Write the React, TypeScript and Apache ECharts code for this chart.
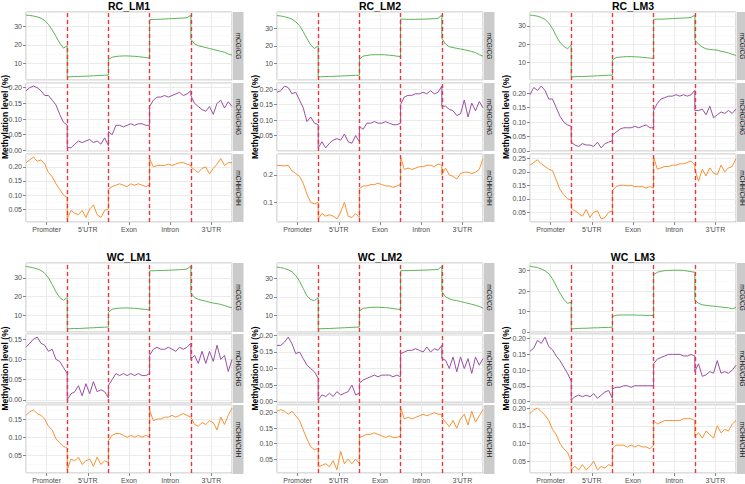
import React, { useEffect, useRef } from 'react';
import * as echarts from 'echarts';

const REGIONS = ['Promoter', "5'UTR", 'Exon', 'Intron', "3'UTR"];
const SAMPLES = ['RC_LM1', 'RC_LM2', 'RC_LM3', 'WC_LM1', 'WC_LM2', 'WC_LM3'];
const CONTEXTS = ['mCG/CG', 'mCHG/CHG', 'mCHH/CHH'];

// 12 bins per region: Promoter, 5'UTR, Exon, Intron, 3'UTR
const RC_LM1_CG = [
  36, 35.8, 35.5, 35, 34.3, 33, 31, 28, 24.5, 21, 18.2, 19.5,
  2.7, 2.8, 2.9, 3.0, 3.0, 3.1, 3.2, 3.3, 3.4, 3.5, 3.6, 3.7,
  12.0, 13.3, 13.7, 13.9, 14.0, 14.0, 13.9, 13.8, 13.6, 13.4, 13.1, 12.8,
  33.5, 33.6, 33.7, 33.8, 33.9, 34.0, 34.1, 34.2, 34.3, 34.4, 34.6, 36.0,
  23, 20.5, 19.5, 19, 18.5, 18, 17.5, 17, 16.5, 16, 15, 14.5,
];
const RC_LM1_CHG = [
  0.19, 0.20, 0.205, 0.20, 0.19, 0.175, 0.175, 0.16, 0.145, 0.115, 0.09, 0.08,
  0.01, 0.008, 0.02, 0.03, 0.025, 0.03, 0.035, 0.025, 0.03, 0.02, 0.04, 0.015,
  0.06, 0.05, 0.08, 0.08, 0.075, 0.08, 0.085, 0.08, 0.085, 0.085, 0.08, 0.08,
  0.14, 0.16, 0.17, 0.17, 0.175, 0.17, 0.175, 0.18, 0.185, 0.175, 0.18, 0.19,
  0.175, 0.15, 0.14, 0.13, 0.125, 0.14, 0.115, 0.15, 0.16, 0.135, 0.155, 0.14,
];
const RC_LM1_CHH = [
  0.215, 0.225, 0.235, 0.22, 0.225, 0.21, 0.18, 0.165, 0.14, 0.12, 0.10, 0.09,
  0.015, 0.045, 0.035, 0.03, 0.045, 0.02, 0.05, 0.065, 0.03, 0.02, 0.045, 0.05,
  0.12, 0.13, 0.135, 0.14, 0.135, 0.13, 0.14, 0.135, 0.14, 0.135, 0.13, 0.135,
  0.23, 0.20, 0.205, 0.205, 0.205, 0.21, 0.205, 0.21, 0.215, 0.215, 0.21, 0.205,
  0.20, 0.19, 0.18, 0.195, 0.20, 0.175, 0.195, 0.21, 0.23, 0.205, 0.215, 0.215,
];

const RC_LM2_CG = [
  37, 36.8, 36.4, 35.8, 35, 33.5, 31.5, 28, 24, 20.5, 18.5, 20,
  2.5, 2.6, 2.7, 2.8, 2.8, 2.9, 3.0, 3.1, 3.2, 3.3, 3.4, 3.5,
  12.5, 14.2, 14.6, 14.9, 15.0, 15.0, 15.0, 14.9, 14.7, 14.5, 14.2, 13.9,
  35.0, 35.0, 34.9, 34.9, 34.9, 35.0, 35.0, 35.1, 35.2, 35.3, 35.5, 37.3,
  24.3, 21, 19.5, 19, 18.6, 18.2, 17.8, 17.3, 16.8, 16.2, 15.0, 14.2,
];
const RC_LM2_CHG = [
  0.19, 0.195, 0.21, 0.205, 0.185, 0.19, 0.165, 0.14, 0.095, 0.11, 0.09, 0.085,
  0.01, 0.03, 0.01, 0.025, 0.035, 0.04, 0.035, 0.055, 0.03, 0.025, 0.05, 0.03,
  0.08, 0.07, 0.09, 0.09, 0.095, 0.09, 0.09, 0.095, 0.09, 0.085, 0.085, 0.09,
  0.15, 0.175, 0.18, 0.18, 0.185, 0.185, 0.19, 0.185, 0.195, 0.185, 0.19, 0.21,
  0.145, 0.145, 0.135, 0.13, 0.115, 0.12, 0.165, 0.11, 0.155, 0.13, 0.16, 0.14,
];
const RC_LM2_CHH = [
  0.235, 0.234, 0.233, 0.235, 0.215, 0.205, 0.195, 0.17, 0.13, 0.10, 0.095, 0.10,
  0.04, 0.06, 0.05, 0.055, 0.05, 0.04, 0.065, 0.10, 0.05, 0.045, 0.06, 0.045,
  0.15, 0.16, 0.16, 0.165, 0.165, 0.17, 0.165, 0.16, 0.16, 0.155, 0.16, 0.165,
  0.265, 0.22, 0.225, 0.22, 0.225, 0.23, 0.23, 0.235, 0.235, 0.23, 0.24, 0.235,
  0.20, 0.225, 0.20, 0.195, 0.185, 0.205, 0.21, 0.21, 0.205, 0.21, 0.22, 0.26,
];

const RC_LM3_CG = [
  35.8, 35.6, 35.2, 34.5, 33.5, 31.5, 28.5, 24.5, 21, 19, 17.5, 19.5,
  2.3, 2.4, 2.5, 2.5, 2.6, 2.7, 2.8, 2.9, 3.0, 3.1, 3.2, 3.3,
  11.5, 12.8, 13.0, 13.2, 13.3, 13.3, 13.2, 13.1, 12.9, 12.7, 12.5, 12.2,
  33.5, 33.6, 33.6, 33.7, 33.8, 33.9, 34.0, 34.1, 34.2, 34.3, 34.5, 35.8,
  22.3, 20, 18.5, 17.5, 17.2, 17, 16.8, 16.2, 15.8, 15.3, 14.5, 14,
];
const RC_LM3_CHG = [
  0.195, 0.22, 0.21, 0.225, 0.21, 0.18, 0.18, 0.15, 0.12, 0.10, 0.09, 0.085,
  0.03, 0.02, 0.015, 0.025, 0.02, 0.02, 0.015, 0.03, 0.01, 0.025, 0.03, 0.035,
  0.055, 0.065, 0.075, 0.08, 0.08, 0.08, 0.085, 0.08, 0.085, 0.09, 0.08, 0.08,
  0.14, 0.165, 0.18, 0.185, 0.19, 0.19, 0.195, 0.19, 0.195, 0.19, 0.195, 0.21,
  0.14, 0.14, 0.145, 0.125, 0.155, 0.115, 0.125, 0.135, 0.13, 0.14, 0.13, 0.145,
];
const RC_LM3_CHH = [
  0.225, 0.235, 0.245, 0.23, 0.22, 0.21, 0.205, 0.17, 0.135, 0.115, 0.10, 0.095,
  0.065, 0.055, 0.045, 0.035, 0.06, 0.03, 0.05, 0.055, 0.025, 0.03, 0.05, 0.055,
  0.13, 0.145, 0.15, 0.15, 0.148, 0.15, 0.145, 0.145, 0.145, 0.14, 0.145, 0.14,
  0.255, 0.21, 0.215, 0.22, 0.22, 0.225, 0.225, 0.23, 0.23, 0.235, 0.24, 0.225,
  0.21, 0.165, 0.21, 0.185, 0.215, 0.195, 0.19, 0.225, 0.20, 0.215, 0.22, 0.25,
];

const WC_LM1_CG = [
  36.2, 35.8, 35.4, 34.8, 34, 32.5, 30, 26.5, 22.5, 19.5, 18, 19.5,
  2.7, 2.8, 2.9, 2.9, 3.0, 3.1, 3.2, 3.3, 3.4, 3.5, 3.6, 3.7,
  11.5, 13.2, 13.6, 13.8, 13.9, 13.9, 13.8, 13.7, 13.5, 13.3, 13.1, 12.8,
  33.8, 33.8, 33.9, 34.0, 34.0, 34.1, 34.2, 34.3, 34.4, 34.5, 34.8, 36.3,
  22, 19.5, 18.5, 18, 17.5, 17, 16.5, 16.2, 15.8, 15.2, 14.5, 14,
];
const WC_LM1_CHG = [
  0.13, 0.14, 0.15, 0.155, 0.14, 0.135, 0.12, 0.125, 0.10, 0.095, 0.08, 0.065,
  0.0, 0.015, 0.02, 0.035, 0.01, 0.04, 0.015, 0.045, 0.02, 0.025, 0.02, 0.005,
  0.035, 0.05, 0.065, 0.06, 0.065, 0.06, 0.065, 0.06, 0.065, 0.06, 0.06, 0.065,
  0.11, 0.125, 0.13, 0.125, 0.125, 0.13, 0.125, 0.12, 0.13, 0.125, 0.13, 0.14,
  0.10, 0.11, 0.09, 0.12, 0.09, 0.12, 0.095, 0.135, 0.10, 0.11, 0.07, 0.10,
];
const WC_LM1_CHH = [
  0.16, 0.17, 0.175, 0.165, 0.16, 0.15, 0.13, 0.12, 0.095, 0.085, 0.075, 0.07,
  0.01, 0.04, 0.035, 0.045, 0.025, 0.035, 0.04, 0.02, 0.045, 0.025, 0.035, 0.03,
  0.09, 0.105, 0.11, 0.11, 0.105, 0.10, 0.105, 0.10, 0.105, 0.10, 0.105, 0.10,
  0.175, 0.145, 0.15, 0.15, 0.155, 0.155, 0.16, 0.155, 0.16, 0.165, 0.16, 0.155,
  0.155, 0.135, 0.13, 0.14, 0.135, 0.145, 0.14, 0.12, 0.155, 0.135, 0.16, 0.18,
];

const WC_LM2_CG = [
  36, 35.7, 35.3, 34.5, 33.5, 31.5, 28.5, 24.5, 20.5, 18.5, 18, 19.5,
  2.8, 2.9, 3.0, 3.0, 3.1, 3.2, 3.3, 3.4, 3.5, 3.6, 3.7, 3.8,
  12.5, 13.8, 14.1, 14.3, 14.4, 14.4, 14.3, 14.2, 14.0, 13.7, 13.4, 13.2,
  34.0, 34.1, 34.1, 34.2, 34.2, 34.3, 34.3, 34.4, 34.5, 34.6, 34.7, 36.5,
  23, 20, 19, 18.3, 18, 17.5, 17, 16.5, 16, 15.5, 14.8, 14,
];
const WC_LM2_CHG = [
  0.17, 0.17, 0.18, 0.195, 0.175, 0.145, 0.15, 0.13, 0.11, 0.10, 0.09, 0.07,
  0.005, 0.02, 0.015, 0.025, 0.015, 0.03, 0.02, 0.025, 0.03, 0.05, 0.02, 0.025,
  0.055, 0.065, 0.07, 0.075, 0.08, 0.075, 0.08, 0.08, 0.08, 0.075, 0.08, 0.075,
  0.145, 0.15, 0.155, 0.155, 0.16, 0.155, 0.15, 0.165, 0.15, 0.16, 0.155, 0.17,
  0.13, 0.125, 0.10, 0.135, 0.09, 0.135, 0.10, 0.13, 0.085, 0.135, 0.11, 0.13,
];
const WC_LM2_CHH = [
  0.205, 0.21, 0.205, 0.195, 0.205, 0.19, 0.175, 0.145, 0.115, 0.09, 0.08, 0.085,
  0.025, 0.03, 0.035, 0.025, 0.045, 0.015, 0.075, 0.035, 0.05, 0.035, 0.05, 0.035,
  0.12, 0.125, 0.13, 0.13, 0.135, 0.13, 0.125, 0.12, 0.125, 0.12, 0.12, 0.125,
  0.215, 0.18, 0.185, 0.18, 0.185, 0.19, 0.195, 0.19, 0.195, 0.20, 0.195, 0.195,
  0.185, 0.17, 0.155, 0.175, 0.15, 0.18, 0.195, 0.16, 0.205, 0.17, 0.19, 0.21,
];

const WC_LM3_CG = [
  32.2, 31.8, 31.5, 30.8, 30, 28.5, 26, 22.5, 19, 16, 14, 14.5,
  1.5, 1.6, 1.7, 1.8, 1.8, 1.9, 2.0, 2.0, 2.1, 2.2, 2.2, 2.3,
  7.5, 8.2, 8.3, 8.3, 8.3, 8.3, 8.3, 8.2, 8.2, 8.1, 8.1, 8.0,
  28.0, 29.2, 29.7, 30.0, 30.1, 30.2, 30.2, 30.2, 30.1, 29.8, 29.5, 29.2,
  15.5, 14, 13.3, 13, 12.8, 12.6, 12.4, 12.2, 12, 11.8, 11.3, 12,
];
const WC_LM3_CHG = [
  0.16, 0.17, 0.195, 0.185, 0.205, 0.175, 0.165, 0.145, 0.13, 0.11, 0.09, 0.065,
  0.005, 0.015, 0.02, 0.015, 0.02, 0.015, 0.025, 0.01, 0.02, 0.03, 0.035, 0.01,
  0.04, 0.045, 0.045, 0.05, 0.05, 0.045, 0.05, 0.05, 0.05, 0.05, 0.05, 0.05,
  0.12, 0.135, 0.14, 0.145, 0.15, 0.15, 0.15, 0.15, 0.145, 0.145, 0.15, 0.145,
  0.095, 0.12, 0.08, 0.085, 0.095, 0.09, 0.13, 0.09, 0.095, 0.09, 0.10, 0.115,
];
const WC_LM3_CHH = [
  0.185, 0.195, 0.2, 0.19, 0.18, 0.165, 0.14, 0.125, 0.10, 0.085, 0.075, 0.05,
  0.025, 0.035, 0.025, 0.04, 0.025, 0.035, 0.05, 0.025, 0.035, 0.03, 0.04, 0.035,
  0.085, 0.095, 0.095, 0.095, 0.09, 0.095, 0.09, 0.095, 0.09, 0.09, 0.085, 0.095,
  0.165, 0.155, 0.16, 0.165, 0.165, 0.165, 0.165, 0.165, 0.17, 0.17, 0.17, 0.165,
  0.12, 0.13, 0.115, 0.135, 0.125, 0.115, 0.15, 0.13, 0.14, 0.135, 0.155, 0.165,
];

const SERIES_BY_SAMPLE: number[][][] = [
  [RC_LM1_CG, RC_LM1_CHG, RC_LM1_CHH],
  [RC_LM2_CG, RC_LM2_CHG, RC_LM2_CHH],
  [RC_LM3_CG, RC_LM3_CHG, RC_LM3_CHH],
  [WC_LM1_CG, WC_LM1_CHG, WC_LM1_CHH],
  [WC_LM2_CG, WC_LM2_CHG, WC_LM2_CHH],
  [WC_LM3_CG, WC_LM3_CHG, WC_LM3_CHH],
];

const BINS = 12;
const COLORS = ['#5db454', '#9a4fa5', '#f8922f'];
const FONT = "'Liberation Sans', Arial, sans-serif";

export default function App() {
  const ref = useRef<HTMLDivElement>(null);
  useEffect(() => {
    if (!ref.current) return;
    const chart = echarts.init(ref.current, undefined, { renderer: 'svg' });

    const colLeft = [26, 277, 530];
    const plotW = 206;
    const rowTops = [[12, 83, 154], [263, 334, 405]];
    const facetH = [68, 69];
    const titleY = [6, 257];
    const yTitleX = [5, 255, 506];

    const grid: any[] = [];
    const xAxis: any[] = [];
    const yAxis: any[] = [];
    const series: any[] = [];
    const graphic: any[] = [];

    SAMPLES.forEach((name, s) => {
      const col = s % 3;
      const row = Math.floor(s / 3);
      const left = colLeft[col];
      const h = facetH[row];
      graphic.push({
        type: 'text', x: left + plotW / 2, y: titleY[row],
        style: { text: name, fontSize: 10.5, fontWeight: 'bold', fontFamily: FONT, fill: '#000', align: 'center', verticalAlign: 'middle' },
      });
      graphic.push({
        type: 'text', x: yTitleX[col], y: rowTops[row][1] + h / 2, rotation: Math.PI / 2,
        style: { text: 'Methylation level (%)', fontSize: 8.5, fontWeight: 'bold', fontFamily: FONT, fill: '#000', align: 'center', verticalAlign: 'middle' },
      });
      CONTEXTS.forEach((ctx, c) => {
        const g = s * 3 + c;
        const top = rowTops[row][c];
        const vals = SERIES_BY_SAMPLE[s][c];
        const lo = Math.min(...vals);
        const hi = Math.max(...vals);
        const pad = (hi - lo) * 0.05;
        const step = c === 0 ? 10 : (s === 1 && c === 2 ? 0.1 : 0.05);
        const dec = c === 0 ? 0 : (s === 1 && c === 2 ? 1 : 2);
        grid.push({ left, top, width: plotW, height: h, show: true, borderColor: '#bdbdbd', borderWidth: 1, backgroundColor: '#fff', containLabel: false });
        xAxis.push({
          type: 'value', gridIndex: g, min: 0, max: 5, interval: 0.5, position: 'top',
          axisLine: { show: false }, axisTick: { show: false }, axisLabel: { show: false },
          splitLine: { show: true, lineStyle: { color: '#ebebeb', width: 1 } },
        });
        xAxis.push({
          type: 'category', gridIndex: g, data: REGIONS, boundaryGap: true, position: 'bottom', show: c === 2,
          axisLine: { show: false },
          axisTick: { show: true, alignWithLabel: true, length: 3, lineStyle: { color: '#888' } },
          axisLabel: { fontSize: 7, color: '#4d4d4d', margin: 4, fontFamily: FONT },
          splitLine: { show: false },
        });
        yAxis.push({
          type: 'value', gridIndex: g, min: lo - pad, max: hi + pad, splitNumber: s === 1 && c === 2 ? 3 : 4,
          axisLine: { show: false },
          axisTick: { show: true, length: 3, lineStyle: { color: '#888' } },
          axisLabel: {
            fontSize: 7, color: '#4d4d4d', margin: 4, fontFamily: FONT, showMinLabel: false, showMaxLabel: false,
            formatter: (v: number) => {
              const r = v / step;
              return Math.abs(r - Math.round(r)) < 1e-6 ? v.toFixed(dec) : '';
            },
          },
          splitLine: { show: true, lineStyle: { color: '#ebebeb', width: 1 } },
          minorTick: { show: false, splitNumber: 2 },
          minorSplitLine: { show: true, lineStyle: { color: '#f6f6f6', width: 0.6 } },
        });
        series.push({
          type: 'line', xAxisIndex: g * 2, yAxisIndex: g, showSymbol: false, symbol: 'none',
          data: vals.map((v, k) => [Math.floor(k / BINS) + (k % BINS) / (BINS - 1), v]),
          lineStyle: { color: COLORS[c], width: 1 },
          itemStyle: { color: COLORS[c] },
          markLine: {
            silent: true, symbol: ['none', 'none'], label: { show: false },
            lineStyle: { color: '#e8383d', type: [4, 3], width: 1.4 },
            data: [{ xAxis: 1 }, { xAxis: 2 }, { xAxis: 3 }, { xAxis: 4 }],
          },
        });
        graphic.push({
          type: 'rect', shape: { x: left + plotW + 0.5, y: top, width: 11, height: h },
          style: { fill: '#cbcbcb' },
        });
        graphic.push({
          type: 'text', x: left + plotW + 6, y: top + h / 2, rotation: -Math.PI / 2,
          style: { text: ctx, fontSize: 6.5, fontFamily: FONT, fill: '#1a1a1a', align: 'center', verticalAlign: 'middle' },
        });
      });
    });

    chart.setOption({ animation: false, backgroundColor: '#fff', grid, xAxis, yAxis, series, graphic });
    return () => chart.dispose();
  }, []);
  return <div ref={ref} style={{ position: 'fixed', left: 0, top: 0, width: 745, height: 484 }} />;
}
